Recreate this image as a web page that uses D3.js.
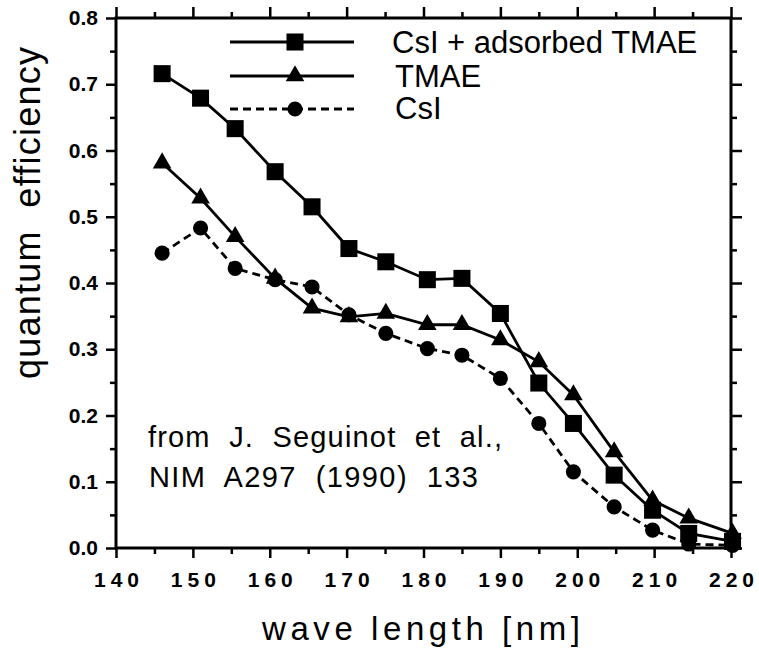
<!DOCTYPE html>
<html>
<head>
<meta charset="utf-8">
<script src="https://cdn.jsdelivr.net/npm/d3@7"></script>
<style>
body{margin:0;background:#fff}
text{font-family:"Liberation Sans",Arial,Helvetica,sans-serif;fill:#000;white-space:pre}
</style>
</head>
<body>
<div id="chart"></div>
<script>
// values (Seguinot et al. 1990)
var wavelength = [146, 151, 155.5, 160.7, 165.5, 170.3, 175.1, 180.5, 185, 190, 195, 199.5, 204.8, 209.8, 214.5, 220.2];
var qeCsITmae = [0.716, 0.679, 0.633, 0.568, 0.515, 0.452, 0.432, 0.405, 0.407, 0.354, 0.249, 0.188, 0.110, 0.057, 0.022, 0.010];
var qeTmae = [0.581, 0.528, 0.470, 0.407, 0.362, 0.349, 0.354, 0.337, 0.337, 0.314, 0.281, 0.231, 0.145, 0.072, 0.045, 0.022];
var qeCsI = [0.445, 0.483, 0.422, 0.405, 0.394, 0.352, 0.324, 0.301, 0.291, 0.256, 0.188, 0.115, 0.062, 0.027, 0.006, 0.004];
var seriesNames = ["CsI + adsorbed TMAE", "TMAE", "CsI"];
var xTicks = [140, 150, 160, 170, 180, 190, 200, 210, 220];
var xMinor = [145, 155, 165, 175, 185, 195, 205, 215];
var yTicks = [0, 0.1, 0.2, 0.3, 0.4, 0.5, 0.6, 0.7, 0.8];
var yMinor = [0.05, 0.15, 0.25, 0.35, 0.45, 0.55, 0.65, 0.75];

var w = 759, h = 663;
var margins = {top: 18, bottom: 115, left: 116, right: 28};

var svg = d3.select("#chart").append("svg")
  .attr("width", w)
  .attr("height", h);

var x = d3.scaleLinear().domain([140, 220]).range([margins.left, w - margins.right]);
var y = d3.scaleLinear().domain([0, 0.8]).range([h - margins.bottom, margins.top]);

function styleAxis(g) {
  g.select(".domain").remove();
  g.selectAll(".tick line").attr("stroke", "#000").attr("stroke-width", 2.5);
  g.selectAll("text").attr("fill", "#000");
}

var yb = h - margins.bottom;
// bottom axis with labels
svg.append("g")
  .attr("transform", "translate(0," + yb + ")")
  .call(d3.axisBottom(x).tickValues(xTicks).tickSize(10).tickPadding(14).tickFormat(d3.format("d")))
  .call(styleAxis)
  .selectAll("text")
    .style("font-size", "21px")
    .style("font-weight", "bold")
    .style("letter-spacing", "5px")
    .attr("dx", "2.5px");
svg.append("g")
  .attr("transform", "translate(0," + yb + ")")
  .call(d3.axisBottom(x).tickValues(xMinor).tickSize(6).tickFormat(""))
  .call(styleAxis);
// top axis
svg.append("g")
  .attr("transform", "translate(0," + margins.top + ")")
  .call(d3.axisTop(x).tickValues(xTicks).tickSize(11).tickFormat(""))
  .call(styleAxis);
svg.append("g")
  .attr("transform", "translate(0," + margins.top + ")")
  .call(d3.axisTop(x).tickValues(xMinor).tickSize(6).tickFormat(""))
  .call(styleAxis);
// left axis with labels
svg.append("g")
  .attr("transform", "translate(" + margins.left + ",0)")
  .call(d3.axisLeft(y).tickValues(yTicks).tickSize(10).tickPadding(8).tickFormat(d3.format(".1f")))
  .call(styleAxis)
  .selectAll("text")
    .style("font-size", "21px")
    .style("font-weight", "bold");
svg.append("g")
  .attr("transform", "translate(" + margins.left + ",0)")
  .call(d3.axisLeft(y).tickValues(yMinor).tickSize(6).tickFormat(""))
  .call(styleAxis);
// right axis
svg.append("g")
  .attr("transform", "translate(" + (w - margins.right) + ",0)")
  .call(d3.axisRight(y).tickValues(yTicks).tickSize(11).tickFormat(""))
  .call(styleAxis);
svg.append("g")
  .attr("transform", "translate(" + (w - margins.right) + ",0)")
  .call(d3.axisRight(y).tickValues(yMinor).tickSize(6).tickFormat(""))
  .call(styleAxis);

// frame
svg.append("rect")
  .attr("x", margins.left)
  .attr("y", margins.top)
  .attr("width", w - margins.left - margins.right)
  .attr("height", h - margins.top - margins.bottom)
  .attr("fill", "none")
  .attr("stroke", "#000")
  .attr("stroke-width", 3);

var series = [
  {name: seriesNames[0], values: qeCsITmae, sym: d3.symbolSquare, size: 290, dash: null},
  {name: seriesNames[1], values: qeTmae, sym: d3.symbolTriangle, size: 150, dash: null},
  {name: seriesNames[2], values: qeCsI, sym: d3.symbolCircle, size: 180, dash: "8,5"}
];

var line = d3.line()
  .x(function(d) { return x(d[0]); })
  .y(function(d) { return y(d[1]); });

series.forEach(function(s) {
  var pts = wavelength.map(function(wl, i) { return [wl, s.values[i]]; });
  svg.append("path")
    .datum(pts)
    .attr("d", line)
    .attr("fill", "none")
    .attr("stroke", "#000")
    .attr("stroke-width", 2.8)
    .attr("stroke-dasharray", s.dash);
  svg.append("g").selectAll("path")
    .data(pts)
    .enter()
    .append("path")
    .attr("d", d3.symbol().type(s.sym).size(s.size))
    .attr("transform", function(d) { return "translate(" + x(d[0]) + "," + y(d[1]) + ")"; })
    .attr("fill", "#000");
});

// legend
var legend = svg.append("g").classed("legend", true);
var legRows = [42, 76, 109];
var legText = [{x: 392, y: 53}, {x: 395, y: 87}, {x: 395, y: 119}];
series.forEach(function(s, i) {
  legend.append("line")
    .attr("x1", 230).attr("x2", 354)
    .attr("y1", legRows[i]).attr("y2", legRows[i])
    .attr("stroke", "#000")
    .attr("stroke-width", 3)
    .attr("stroke-dasharray", s.dash);
  legend.append("path")
    .attr("d", d3.symbol().type(s.sym).size(s.size))
    .attr("transform", "translate(295," + legRows[i] + ")")
    .attr("fill", "#000");
  legend.append("text")
    .text(s.name)
    .attr("x", legText[i].x)
    .attr("y", legText[i].y)
    .style("font-size", "31px");
});

// annotation
svg.append("text")
  .text("from  J.  Seguinot  et  al.,")
  .attr("x", 148).attr("y", 447)
  .attr("textLength", 354)
  .attr("lengthAdjust", "spacing")
  .style("font-size", "29px");
svg.append("text")
  .text("NIM  A297  (1990)  133")
  .attr("x", 149).attr("y", 487)
  .attr("textLength", 329)
  .attr("lengthAdjust", "spacing")
  .style("font-size", "29px");

// axis titles
svg.append("text")
  .text("wave length [nm]")
  .attr("x", 262).attr("y", 640)
  .attr("textLength", 318)
  .attr("lengthAdjust", "spacing")
  .style("font-size", "33px");
svg.append("text")
  .text("quantum  efficiency")
  .attr("transform", "rotate(-90)")
  .attr("x", -379).attr("y", 40)
  .attr("textLength", 332)
  .attr("lengthAdjust", "spacing")
  .style("font-size", "36px");
</script>
</body>
</html>
